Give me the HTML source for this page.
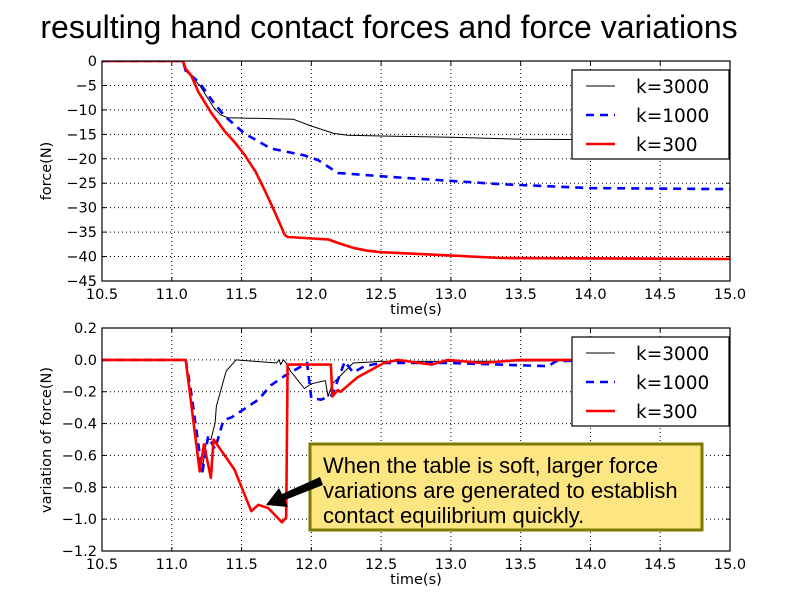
<!DOCTYPE html>
<html><head><meta charset="utf-8"><style>
body{margin:0;background:#fff}
svg{display:block;font-family:"DejaVu Sans","Liberation Sans",sans-serif}
</style></head><body>
<svg id="c" width="812" height="612" viewBox="0 0 812 612">
<text x="389" y="38" font-size="32" text-anchor="middle" font-family="Liberation Sans, sans-serif">resulting hand contact forces and force variations</text>
</svg>
<script>
const xTicks=[10.5,11.0,11.5,12.0,12.5,13.0,13.5,14.0,14.5,15.0];
const topYTicks=[0,-5,-10,-15,-20,-25,-30,-35,-40,-45];
const botYTicks=[0.2,0.0,-0.2,-0.4,-0.6,-0.8,-1.0,-1.2];
const topT3000=[10.5,11.08,11.1,11.2,11.3,11.35,11.4,11.87,12.0,12.16,12.26,13.0,13.5,15.0];
const topV3000=[0,0,-2,-5,-9.5,-11,-11.6,-11.9,-13.3,-14.8,-15.2,-15.6,-16,-16.2];
const topT1000=[10.5,11.08,11.1,11.2,11.3,11.38,11.52,11.71,11.95,12.05,12.19,12.62,13.36,14.0,15.0];
const topV1000=[0,0,-2,-4.5,-8.5,-11.3,-14.8,-17.9,-19.3,-20.3,-22.9,-23.8,-25.2,-26,-26.2];
const topT300=[10.5,11.08,11.1,11.14,11.19,11.28,11.38,11.45,11.52,11.6,11.67,11.74,11.81,11.83,12.12,12.2,12.31,12.4,12.5,12.86,13.36,15.0];
const topV300=[0,0,-1.6,-3,-6.3,-10.5,-14.4,-16.6,-19.1,-22.6,-26.7,-31,-35.6,-36,-36.5,-37.3,-38.3,-38.8,-39.1,-39.6,-40.3,-40.5];
const botT3000=[10.5,11.1,11.2,11.22,11.25,11.28,11.31,11.32,11.39,11.46,11.75,11.77,11.78,11.8,11.82,11.85,11.95,12.0,12.1,12.12,12.15,12.3,12.5,13.0,15.0];
const botV3000=[0,0,-0.7,-0.68,-0.5,-0.5,-0.4,-0.29,-0.07,0.0,-0.02,0.0,-0.03,0.0,-0.02,-0.07,-0.18,-0.15,-0.13,-0.23,-0.15,-0.02,-0.01,-0.01,0];
const botT1000=[10.5,11.1,11.14,11.2,11.22,11.26,11.31,11.37,11.43,11.62,11.71,11.81,11.91,11.97,12.0,12.07,12.15,12.24,12.3,12.38,12.5,13.0,13.7,13.75,14.0,15.0];
const botV1000=[0,0,-0.21,-0.59,-0.7,-0.48,-0.56,-0.38,-0.36,-0.25,-0.16,-0.1,-0.05,-0.02,-0.24,-0.25,-0.22,-0.01,-0.08,-0.04,-0.02,-0.02,-0.04,-0.01,0,0];
const botT300=[10.5,11.1,11.2,11.23,11.28,11.3,11.45,11.57,11.62,11.69,11.79,11.82,11.83,11.85,12.14,12.15,12.19,12.21,12.33,12.52,12.62,12.86,12.98,13.22,13.5,15.0];
const botV300=[0,0,-0.7,-0.53,-0.74,-0.5,-0.69,-0.95,-0.91,-0.93,-1.02,-0.99,-0.03,-0.03,-0.03,-0.23,-0.19,-0.2,-0.11,-0.02,0.0,-0.03,0.0,-0.02,0,0];

const svg=document.getElementById('c');
const NS='http://www.w3.org/2000/svg';
function mk(tag,attrs,parent){const e=document.createElementNS(NS,tag);for(const k in attrs)e.setAttribute(k,attrs[k]);(parent||svg).appendChild(e);return e;}
const X0=102,X1=730;
function xs(t){return X0+(t-10.5)/4.5*(X1-X0);}
function makeAxis(top,bottom,ymax,ymin){return v=>top+(ymax-v)/(ymax-ymin)*(bottom-top);}
const yTop=makeAxis(61,281,0,-45);
const yBot=makeAxis(328,551,0.2,-1.2);

function panel(name,top,bottom,ys,yticks,fmt,ylabel,ylabelY,series,legY){
  const g=mk('g',{});
  
  
  xTicks.forEach((t,i)=>{
    if(i>0&&i<xTicks.length-1){const l=mk('line',{x1:xs(t),x2:xs(t),y1:top,y2:bottom,stroke:'#000','stroke-width':1,'stroke-dasharray':'1,3'},g);
    
    }
    mk('line',{x1:xs(t),x2:xs(t),y1:top,y2:top+4,stroke:'#000'},g);
    mk('line',{x1:xs(t),x2:xs(t),y1:bottom,y2:bottom-4,stroke:'#000'},g);
    const tx=mk('text',{x:xs(t),y:bottom+18,'font-size':14.5,'text-anchor':'middle'},g);
    tx.textContent=t.toFixed(1);
    
    
  });
  yticks.forEach((v,i)=>{
    const y=ys(v);
    if(i>0&&i<yticks.length-1){const l=mk('line',{x1:X0,x2:X1,y1:y,y2:y,stroke:'#000','stroke-width':1,'stroke-dasharray':'1,3'},g);
    
    }
    mk('line',{x1:X0,x2:X0+4,y1:y,y2:y,stroke:'#000'},g);
    mk('line',{x1:X1,x2:X1-4,y1:y,y2:y,stroke:'#000'},g);
    const tx=mk('text',{x:X0-5,y:y+5,'font-size':14.5,'text-anchor':'end'},g);
    tx.textContent=fmt(v);
    
    
  });
  const cp='clip-'+name;
  const cl=mk('clipPath',{id:cp},g);mk('rect',{x:X0,y:top,width:X1-X0,height:bottom-top},cl);
  series.forEach(s=>{
    const d=s.t.map((t,i)=>(i?'L':'M')+xs(t).toFixed(1)+','+ys(s.v[i]).toFixed(1)).join(' ');
    const p=mk('path',{d:d,fill:'none',stroke:s.c,'stroke-width':s.w,'stroke-dasharray':s.dash||'none','clip-path':'url(#'+cp+')','stroke-linejoin':'round'},g);
    
    
  });
  const fr=mk('rect',{x:X0,y:top,width:X1-X0,height:bottom-top,fill:'none',stroke:'#000','stroke-width':1.2},g);
  
  
  const xl=mk('text',{x:(X0+X1)/2,y:bottom+33,'font-size':14.5,'text-anchor':'middle'},g);
  xl.textContent='time(s)';
  
  
  const yl=mk('text',{x:0,y:0,'font-size':14.5,'text-anchor':'middle',transform:'translate(51,'+ylabelY+') rotate(-90)'},g);
  yl.textContent=ylabel;
  
  
  const lg=mk('g',{},g);
  
  
  mk('rect',{x:572,y:legY,width:157,height:89,fill:'#fff',stroke:'#000','stroke-width':1.2},lg);
  series.forEach((s,i)=>{
    const y=legY+16+i*29;
    const e=mk('g',{},lg);
    
    
    mk('line',{x1:586,x2:615,y1:y,y2:y,stroke:s.c,'stroke-width':s.w,'stroke-dasharray':s.dash||'none'},e);
    const t=mk('text',{x:636,y:y+7,'font-size':18.5},e);t.textContent=s.name;
  });
}
panel('force-panel',61,281,yTop,topYTicks,v=>v.toString().replace('-','\u2212'),'force(N)',171,[
 {name:'k=3000',t:topT3000,v:topV3000,c:'#000',w:1},
 {name:'k=1000',t:topT1000,v:topV1000,c:'#0000ff',w:2.6,dash:'8,6'},
 {name:'k=300',t:topT300,v:topV300,c:'#ff0000',w:2.6}],70);
panel('variation-panel',328,551,yBot,botYTicks,v=>v.toFixed(1).replace('-','\u2212'),'variation of force(N)',440,[
 {name:'k=3000',t:botT3000,v:botV3000,c:'#000',w:1},
 {name:'k=1000',t:botT1000,v:botV1000,c:'#0000ff',w:2.6,dash:'8,6'},
 {name:'k=300',t:botT300,v:botV300,c:'#ff0000',w:2.6}],337);

const ag=mk('g',{});


mk('rect',{x:310,y:444,width:392,height:86,fill:'#fde581',stroke:'#7f7a00','stroke-width':3},ag);
['When the table is soft, larger force','variations are generated to establish','contact equilibrium quickly.'].forEach((s,i)=>{
  const t=mk('text',{x:323,y:473+i*25,'font-size':22,'font-family':'Liberation Sans, sans-serif'},ag);t.textContent=s;
});
mk('polygon',{points:'320,477 323,485 285,500 288,507 266,505 279,488 282,494',fill:'#000'},ag);
</script>
</body></html>
